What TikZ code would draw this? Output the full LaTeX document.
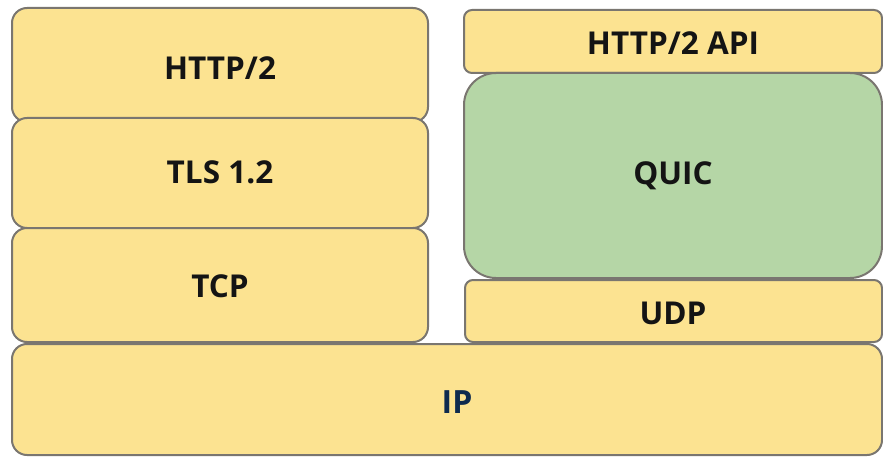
\documentclass[tikz,border=0pt]{standalone}
\usepackage{fontspec}
\setmainfont{Open Sans}
\definecolor{layeryellow}{HTML}{FCE391}
\definecolor{layergreen}{HTML}{B5D6A6}
\definecolor{layeredge}{HTML}{7A7670}
\definecolor{ipnavy}{HTML}{0E2A4E}
\begin{document}
\begin{tikzpicture}[x=1pt,y=1pt,
  layer/.style={draw=layeredge,line width=2pt,fill=layeryellow,rounded corners=#1},
  layer/.default=15pt,
  lbl/.style={font=\fontsize{31.5}{36}\selectfont\bfseries,text=black!92}]
\useasboundingbox (0,0) rectangle (883,456);
% left stack: HTTP/2 over TLS over TCP
\draw[layer] (12,334) rectangle (428,448);
\node[lbl] (http) at (220,388) {HTTP/2};
\draw[layer] (12,228) rectangle (428,338);
\node[lbl] (tls) at (220,284) {TLS 1.2};
\draw[layer] (12,114) rectangle (428,228);
\node[lbl] (tcp) at (220,170) {TCP};
% right stack: HTTP/2 API over QUIC over UDP
\draw[layer=8pt] (464,383) rectangle (882,446);
\node[lbl] (api) at (673,413) {HTTP/2 API};
\draw[layer=32pt,fill=layergreen] (464,178) rectangle (882,383);
\node[lbl] (quic) at (673,280) {QUIC};
\draw[layer=8pt] (465,114) rectangle (882,176);
\node[lbl] (udp) at (673,143) {UDP};
% shared IP layer
\draw[layer] (12,1) rectangle (882,112);
\node[font=\fontsize{32}{36}\selectfont\bfseries,text=ipnavy] (ip) at (457,54) {IP};
\end{tikzpicture}
\end{document}
